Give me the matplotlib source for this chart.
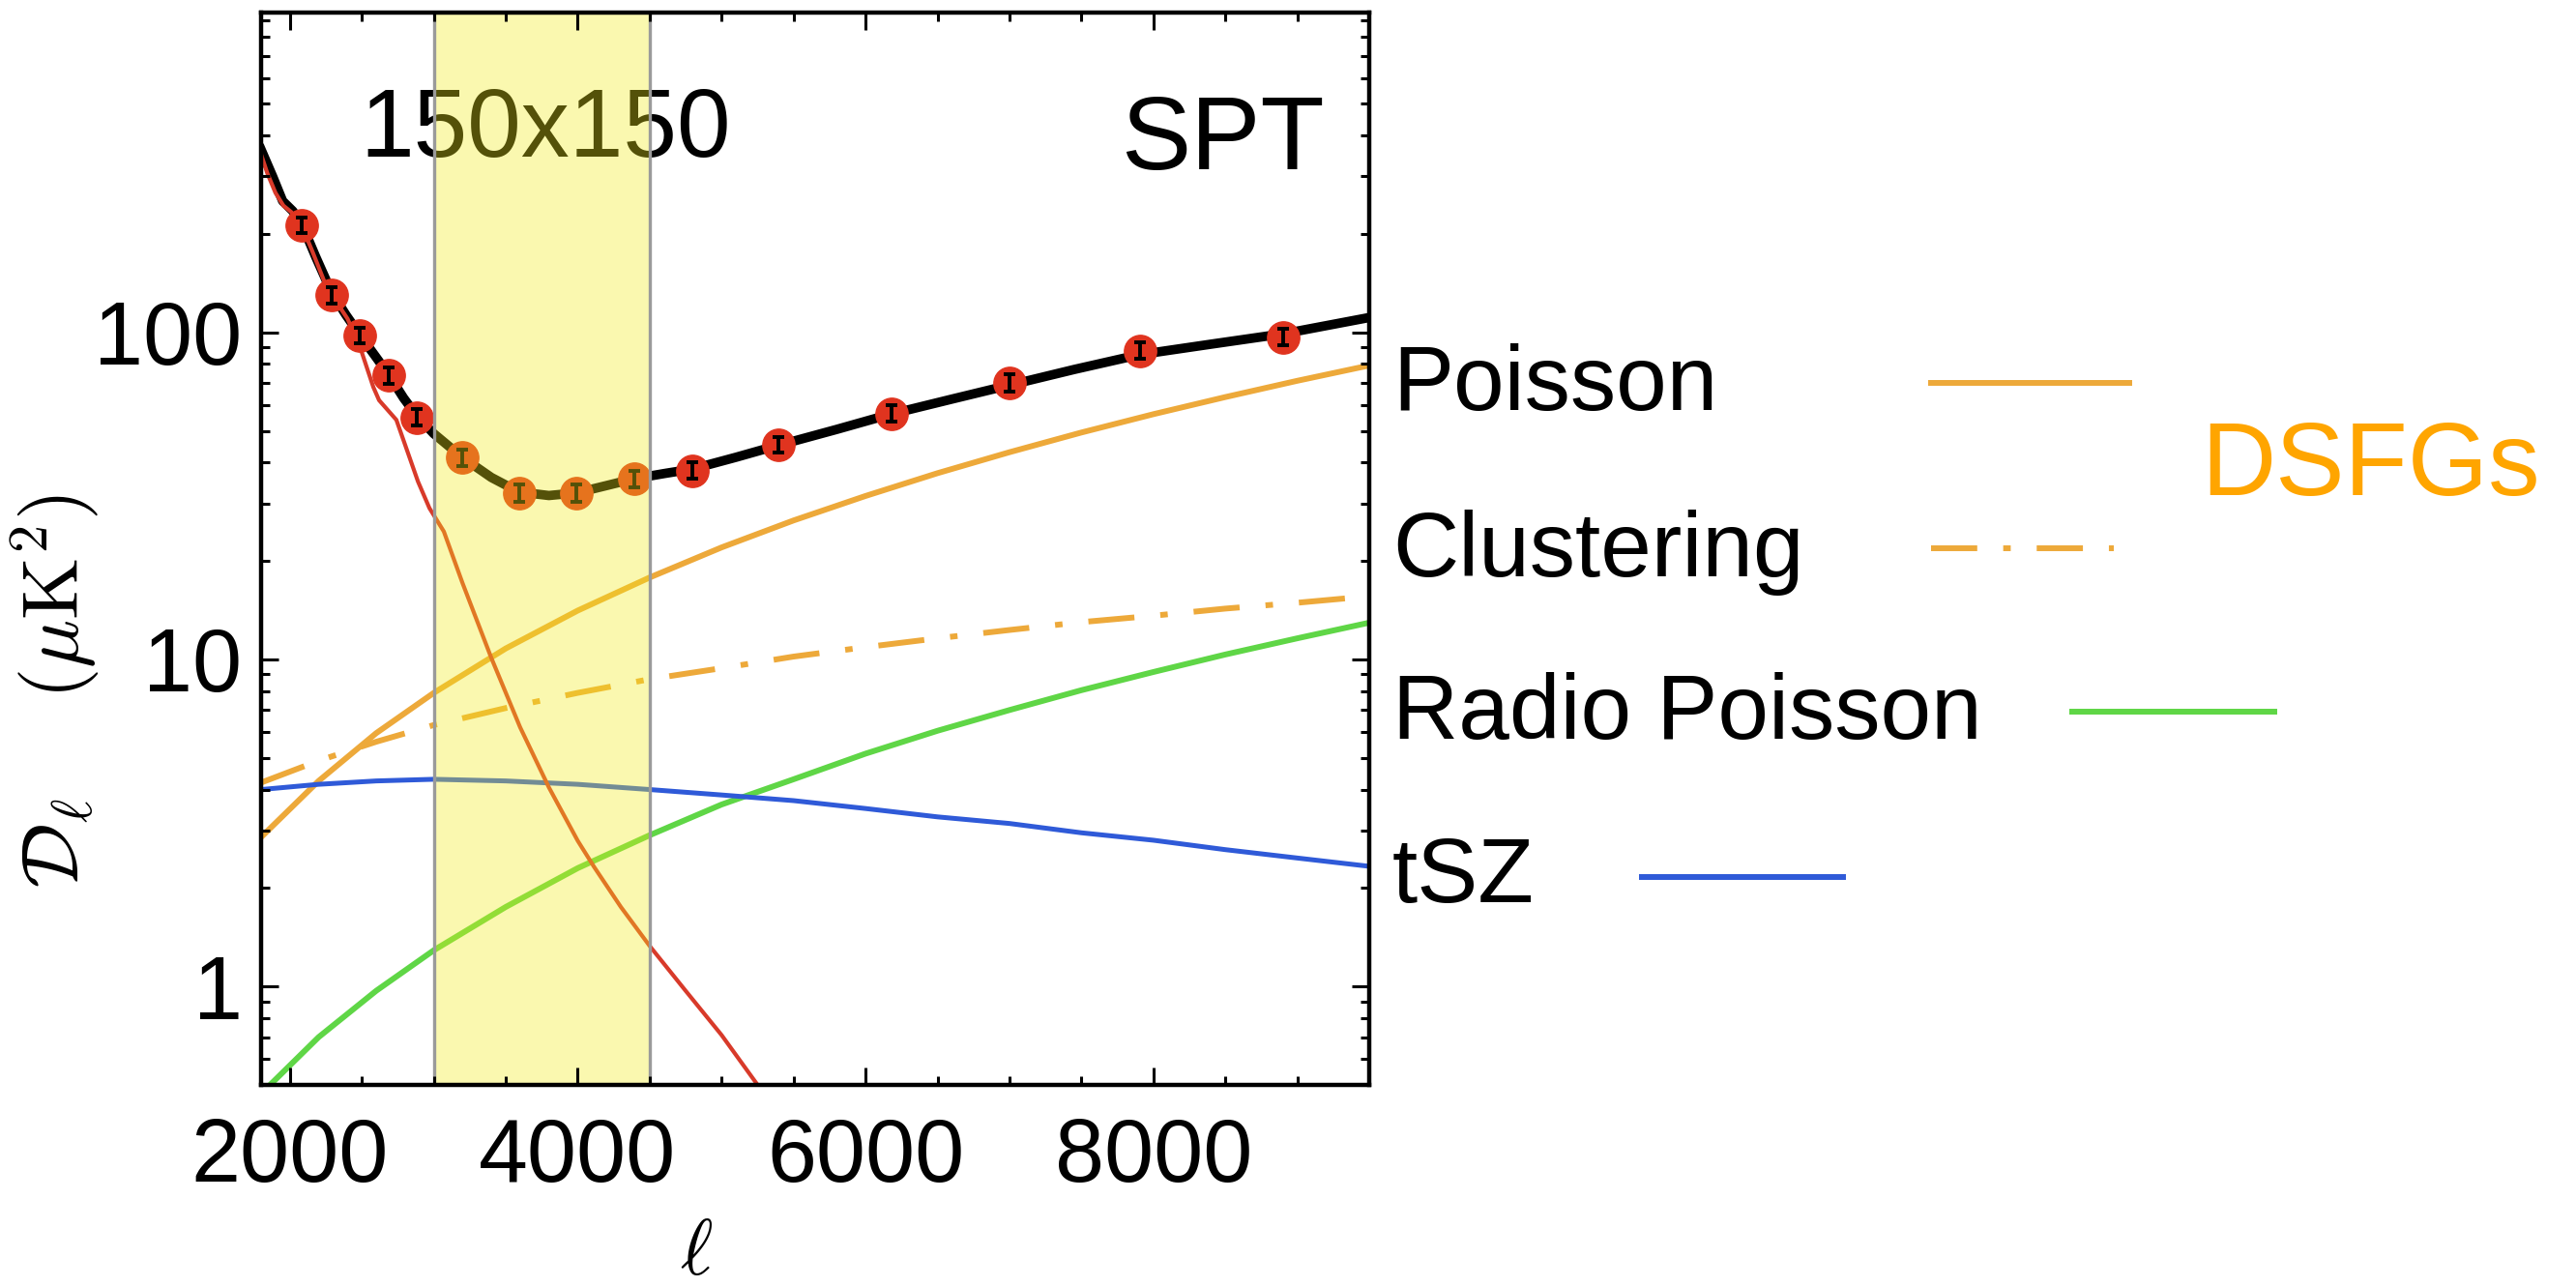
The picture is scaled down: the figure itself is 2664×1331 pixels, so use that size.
import numpy as np
import matplotlib
matplotlib.use('Agg')
import matplotlib.pyplot as plt
from matplotlib.lines import Line2D
from matplotlib.ticker import FixedLocator, NullFormatter, FixedFormatter

plt.rcParams['font.family'] = ['Liberation Sans', 'DejaVu Sans']
plt.rcParams['mathtext.fontset'] = 'cm'

# ---------------- data ----------------
# SPT band powers
ell_pts = [2080, 2288, 2488, 2689, 2883, 3197, 3592, 3993, 4395, 4796, 5398, 6180, 7003, 7906, 8903]
D_pts = [213, 130, 98, 74, 55, 41.5, 32.3, 32.3, 35.7, 37.8, 45.4, 56.5, 70.2, 87.9, 96.7]
D_err = [12, 7.5, 5.5, 4.2, 3.1, 2.4, 1.9, 1.9, 2.1, 2.2, 2.6, 3.3, 4.1, 5.1, 5.6]

# total model (black)
ell_tot = [1800, 1880, 1950, 2020, 2080, 2180, 2288, 2390, 2488, 2590, 2689, 2790, 2883, 3000,
           3197, 3400, 3592, 3800, 3993, 4200, 4395, 4600, 4796, 5100, 5398, 5800, 6180, 6600,
           7003, 7450, 7906, 8400, 8903, 9500]
D_tot = [362, 300, 252, 235, 216, 170, 133, 113, 98, 85, 74, 63, 55.5, 49,
         41.5, 36, 32.5, 31.7, 32.3, 34, 35.7, 37, 38.2, 41.5, 45.2, 50.5, 56.3, 62.5,
         69, 77, 85.5, 92, 99, 111]

# primary CMB (red)
ell_cmb = [1800, 1844, 1900, 1955, 2011, 2080, 2156, 2245, 2312, 2401, 2490, 2580, 2620, 2740,
           2890, 2970, 3070, 3200, 3400, 3600, 3800, 4000, 4114, 4300, 4500, 4750, 5000, 5250]
D_cmb = [350, 306, 267, 244, 233, 213, 177, 141, 126, 110, 89.5, 68, 62, 54,
         35, 29, 24.6, 17.1, 10.1, 6.2, 4.06, 2.79, 2.32, 1.75, 1.33, 0.97, 0.71, 0.5]

# DSFG Poisson
ell_p = [1800, 2200, 2600, 3000, 3500, 4000, 4500, 5000, 5500, 6000, 6500, 7000, 7500, 8000, 8500, 9000, 9500]
D_p = [2.86, 4.25, 5.95, 7.9, 10.8, 14.1, 17.8, 22, 26.6, 31.6, 37.1, 43, 49.4, 56.2, 63.4, 71.1, 79.2]

# DSFG clustering
ell_c = [1800, 2200, 2600, 3000, 3500, 4000, 4500, 5000, 5500, 6000, 6500, 7000, 7500, 8000, 8500, 9000, 9500]
D_c = [4.2, 4.9, 5.6, 6.3, 7.1, 7.9, 8.7, 9.4, 10.2, 10.9, 11.6, 12.3, 13.0, 13.6, 14.3, 14.9, 15.6]

# radio Poisson
ell_r = [1800, 2200, 2600, 3000, 3500, 4000, 4500, 5000, 5500, 6000, 6500, 7000, 7500, 8000, 8500, 9000, 9500]
D_r = [0.47, 0.7, 0.97, 1.29, 1.75, 2.3, 2.9, 3.6, 4.3, 5.15, 6.05, 7.0, 8.05, 9.15, 10.35, 11.6, 12.95]

# tSZ
ell_t = [1800, 2200, 2600, 3000, 3500, 4000, 4500, 5000, 5500, 6000, 6500, 7000, 7500, 8000, 8500, 9000, 9500]
D_t = [4.0, 4.15, 4.25, 4.3, 4.25, 4.15, 4.0, 3.85, 3.7, 3.5, 3.3, 3.15, 2.95, 2.8, 2.62, 2.47, 2.33]

band = [3000, 4500]
x_major = [2000, 4000, 6000, 8000]
x_major_labels = ['2000', '4000', '6000', '8000']
y_major = [1, 10, 100]
y_major_labels = ['1', '10', '100']
legend_labels = ['Poisson', 'Clustering', 'Radio Poisson', 'tSZ']

# ---------------- style ----------------
c_orange = '#EDA93A'
c_green = '#5FD646'
c_blue = '#2F5AD8'
c_red = '#D83A2A'
c_pt = '#E0341F'
dashdot = (0, (8, 4.5, 1.3, 4.5))

W, H = 2664, 1331
fig = plt.figure(figsize=(W / 100, H / 100), dpi=100)
ax = fig.add_axes([270 / W, 1 - 1122 / H, (1416 - 270) / W, (1122 - 13) / H])

ax.plot(ell_p, D_p, color=c_orange, lw=4.3, zorder=2)
ax.plot(ell_c, D_c, color=c_orange, lw=4.3, zorder=2, linestyle=dashdot)
ax.plot(ell_r, D_r, color=c_green, lw=4.3, zorder=2)
ax.plot(ell_t, D_t, color=c_blue, lw=3.6, zorder=2)
ax.plot(ell_tot, D_tot, color='black', lw=7, zorder=3, solid_joinstyle='round')
ax.plot(ell_cmb, D_cmb, color=c_red, lw=3.0, zorder=4, solid_joinstyle='round')
ax.plot(ell_pts, D_pts, 'o', color=c_pt, ms=24, mec=c_pt, zorder=5)
ax.errorbar(ell_pts, D_pts, yerr=D_err, fmt='none', ecolor='black', elinewidth=2.8,
            capsize=4, capthick=2.8, zorder=6)

ax.text(0.089, 0.8656, '150x150', transform=ax.transAxes, fontsize=72,
        ha='left', va='baseline', zorder=5)
ax.text(0.776, 0.854, 'SPT', transform=ax.transAxes, fontsize=78,
        ha='left', va='baseline', zorder=5)

ax.axvspan(band[0], band[1], facecolor=(0.95, 0.92, 0.10), alpha=0.35, lw=0, zorder=10)
for b in band:
    ax.axvline(b, color='#9a9a9a', lw=2.4, zorder=11)

ax.set_yscale('log')
ax.set_xlim(1800, 9500)
ax.set_ylim(0.5, 950)

ax.xaxis.set_major_locator(FixedLocator(x_major))
ax.xaxis.set_major_formatter(FixedFormatter(x_major_labels))
ax.xaxis.set_minor_locator(FixedLocator(np.arange(2000, 9500, 500)))
ax.yaxis.set_major_locator(FixedLocator(y_major))
ax.yaxis.set_major_formatter(FixedFormatter(y_major_labels))
yminor = [m * 10.0 ** e for e in (-1, 0, 1, 2) for m in range(2, 10)]
ax.yaxis.set_minor_locator(FixedLocator(yminor))
ax.yaxis.set_minor_formatter(NullFormatter())

ax.tick_params(which='both', direction='in', top=True, right=True, width=2.2, color='black')
ax.tick_params(which='major', length=13, labelsize=66)
ax.tick_params(which='minor', length=6.5)
ax.tick_params(axis='x', which='major', pad=24)
ax.tick_params(axis='y', which='major', pad=14)
for s in ax.spines.values():
    s.set_linewidth(3.2)
    s.set_zorder(12)
ax.xaxis.set_zorder(12)
ax.yaxis.set_zorder(12)

# axis labels
fig.text(57 / W, 1 - 715 / H, r'$\mathcal{D}_\ell\ \ \ \ (\mu\mathrm{K}^2)$', rotation=90,
         fontsize=60, ha='center', va='center')
fig.text(720 / W, 1 - 1297 / H, r'$\ell$', fontsize=58, ha='center', va='center')

# right-hand legend
txt_y = [424, 596, 764, 933]
line_x = [(1997, 2202), (1997, 2186), (2143, 2352), (1698, 1906)]
line_y = [396, 567, 736, 907]
line_col = [c_orange, c_orange, c_green, c_blue]
line_ls = ['-', dashdot, '-', '-']
for lab, ty, (x0, x1), ly, col, ls in zip(legend_labels, txt_y, line_x, line_y, line_col, line_ls):
    fig.text(1440 / W, 1 - ty / H, lab, fontsize=68, ha='left', va='baseline')
    fig.add_artist(Line2D([x0 / W, x1 / W], [1 - ly / H, 1 - ly / H], color=col, lw=4.3,
                          linestyle=ls, transform=fig.transFigure))
fig.text(2276 / W, 1 - 512 / H, 'DSFGs', fontsize=77, color='#FFA500', ha='left', va='baseline')

fig.savefig('out.png', dpi=100)
